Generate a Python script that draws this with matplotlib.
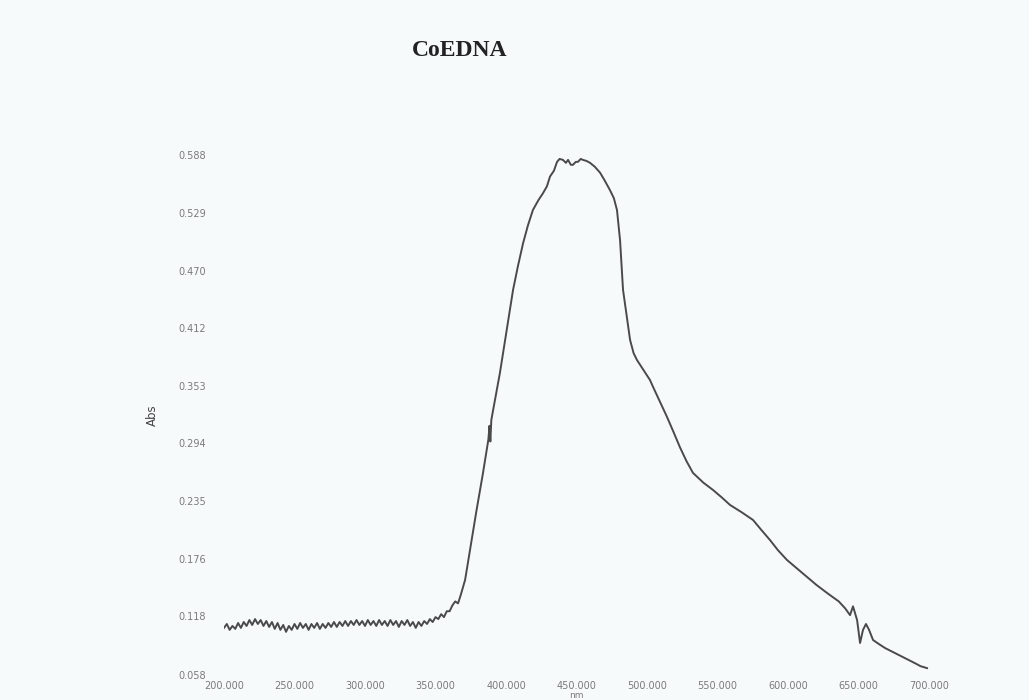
import matplotlib
matplotlib.use("Agg")
import matplotlib.pyplot as plt
import numpy as np

# ---- data ----
baseline_nm = list(range(200, 352, 2))
baseline_abs = [
    .106, .110, .104, .108, .105, .111, .106, .112, .108, .114,
    .109, .115, .110, .114, .108, .113, .107, .112, .105, .111,
    .104, .109, .102, .108, .104, .110, .105, .111, .106, .110,
    .104, .110, .106, .111, .105, .110, .106, .111, .107, .112,
    .107, .112, .108, .113, .108, .113, .109, .114, .109, .113,
    .108, .114, .109, .113, .108, .114, .109, .113, .108, .114,
    .109, .113, .107, .113, .109, .114, .108, .112, .106, .112,
    .108, .113, .110, .115, .112, .117,
]
peak_nm = [352, 354, 356, 358, 360, 362, 364, 366, 368, 371, 374.5, 379, 383.7,
           387.5, 388.3, 388.9, 389.6, 395.7, 400, 405, 408.5, 412.1, 415.5,
           419.1, 423, 426.2, 429, 431.2, 434, 436.2, 438, 440.4, 442.5, 444,
           446, 447.5, 449.5, 451, 453, 454.6, 457, 459.6, 463, 466.7, 470,
           473.8, 476.5, 478.7, 480.9, 483, 485.5, 488, 490.5, 492.9, 497,
           502.1, 504.3, 509, 514.2, 519, 523.4, 528, 532.6, 540, 546.8, 553,
           558.9, 567, 575.2, 581, 587.2, 593, 599.3, 606, 613.5, 620, 627.7,
           636, 640.5, 644, 646.1, 649, 651.1, 653.2, 655.3, 657.5, 660.3,
           664, 668.8, 675, 681.6, 686, 690.1, 694, 698.6]
peak_abs = [.115, .120, .117, .123, .123, .129, .133, .131, .140, .155, .1854, .225, .264,
            .298, .312, .296, .318, .366, .405, .4505, .475, .498, .516,
            .532, .542, .549, .556, .566, .572, .581, .584, .583, .580, .583,
            .578, .578, .581, .581, .584, .583, .582, .580, .576, .570, .562,
            .552, .544, .532, .501, .4505, .425, .3995, .386, .379, .370,
            .3587, .3516, .337, .321, .305, .290, .276, .264, .254, .2466, .239,
            .2313, .224, .216, .206, .1956, .185, .1752, .167, .1579, .150, .1416,
            .133, .126, .119, .128, .114, .0906, .104, .110, .104, .0937,
            .090, .0855, .081, .0763, .073, .070, .067, .065]

x_ticks = [200, 250, 300, 350, 400, 450, 500, 550, 600, 650, 700]
x_tick_labels = ["200.000", "250.000", "300.000", "350.000", "400.000", "450.000",
                 "500.000", "550.000", "600.000", "650.000", "700.000"]
y_ticks = [0.058, 0.118, 0.176, 0.235, 0.294, 0.353, 0.412, 0.470, 0.529, 0.588]
y_tick_labels = ["0.058", "0.118", "0.176", "0.235", "0.294", "0.353", "0.412",
                 "0.470", "0.529", "0.588"]

title = "CoEDNA"
xlabel = "nm"
ylabel = "Abs"

# ---- plot ----
bg = "#f7fafb"
fig = plt.figure(figsize=(10.29, 7.0), dpi=100, facecolor=bg)
ax = fig.add_axes([224 / 1029, 1 - 675 / 700, (929 - 224) / 1029, (675 - 155) / 700])
ax.set_facecolor(bg)

x = baseline_nm + peak_nm
y = baseline_abs + peak_abs
ax.plot(x, y, color="#4a4a4a", linewidth=1.4)

ax.set_xlim(200, 700)
ax.set_ylim(0.058, 0.588)
ax.set_xticks(x_ticks)
ax.set_xticklabels(x_tick_labels)
ax.set_yticks(y_ticks)
ax.set_yticklabels(y_tick_labels)
ax.tick_params(axis="both", length=0, labelsize=7, labelcolor="#7a7a7a")
ax.tick_params(axis="x", pad=4)
ax.tick_params(axis="y", pad=13)
for s in ax.spines.values():
    s.set_visible(False)

ax.set_xlabel(xlabel, fontsize=6.5, color="#7a7a7a", labelpad=0)
ax.set_ylabel(ylabel, fontsize=8.5, color="#444444", labelpad=14)

fig.text(460 / 1029, 1 - 50 / 700, title, ha="center", va="center",
         fontsize=17, fontweight="bold", family="Liberation Serif", color="#222222")

fig.savefig("out.png", dpi=100, facecolor=bg)
